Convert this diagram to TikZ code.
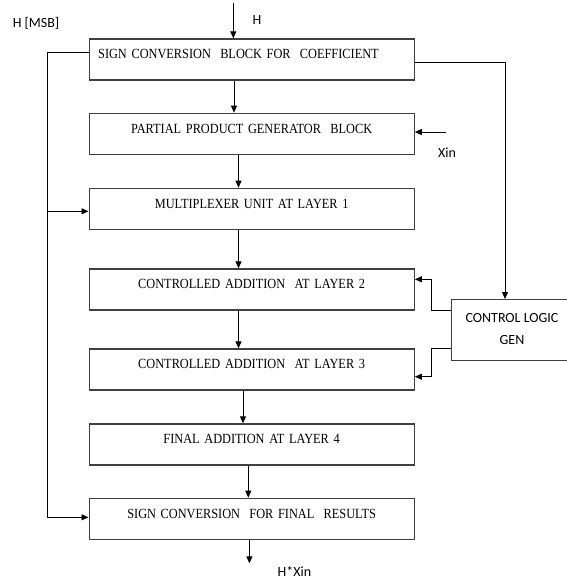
\documentclass[tikz,border=0pt]{standalone}
\usepackage{fontspec}
\setmainfont[FakeStretch=0.88]{Liberation Serif}
\newfontfamily\lblfont{Carlito}
\usetikzlibrary{arrows.meta}
\tikzset{
  blk/.style={draw=black!75, line width=1.3pt, rectangle, inner xsep=0pt, inner ysep=0pt,
    text width=325pt, align=center, text height=19.8pt, text depth=21.2pt,
    anchor=north west, font=\fontsize{14}{16}\selectfont},
  blkleft/.style={blk, inner xsep=9pt, text width=307pt, align=left},
  ctrl/.style={draw=black!75, line width=1.3pt, rectangle, inner sep=0pt,
    minimum width=120pt, minimum height=61pt, anchor=north west},
  lbl/.style={font=\lblfont\fontsize{14}{17}\selectfont, inner sep=0pt},
  conn/.style={line width=0.9pt, black},
  arr/.style={conn, -{Triangle[length=7pt,width=6pt]}}
}
\begin{document}
\begin{tikzpicture}[x=1pt,y=-1pt]
\useasboundingbox (0,0) rectangle (566,579);
% boxes
\node[blkleft] (b1) at (88.5,38.3) {SIGN CONVERSION\ \ BLOCK FOR\ \ COEFFICIENT};
\node[blk] (b2) at (88.5,112.7) {PARTIAL PRODUCT GENERATOR\ \ BLOCK};
\node[blk] (b3) at (88.5,187.7) {MULTIPLEXER UNIT AT LAYER 1};
\node[blk] (b4) at (88.5,268.3) {CONTROLLED ADDITION\ \ AT LAYER 2};
\node[blk] (b5) at (88.5,348.3) {CONTROLLED ADDITION\ \ AT LAYER 3};
\node[blk] (b6) at (88.5,423.3) {FINAL ADDITION AT LAYER 4};
\node[blk] (b7) at (88.5,497.7) {SIGN CONVERSION\ \ FOR FINAL\ \ RESULTS};
\node[ctrl] (cl) at (451,299) {};
\node[lbl] (cltxt1) at (512,317.5) {CONTROL LOGIC};
\node[lbl] (cltxt2) at (512,339.5) {GEN};
% labels
\node[lbl] (hmsb) at (36,23.5) {H [MSB]};
\node[lbl] (hlbl) at (257,20) {H};
\node[lbl] (xinlbl) at (447,152.7) {Xin};
\node[lbl] (outlbl) at (294.5,571.5) {H*Xin};
% free ends
\coordinate (hin) at (233.3,3);
\coordinate (xin) at (445.7,132);
\coordinate (out) at (249.4,563.3);
% vertical chain
\draw[arr] (hin) -- (hin |- b1.north);
\draw[arr] (b1.south -| 234,0) -- (b2.north -| 234,0);
\draw[arr] (b2.south -| 238.5,0) -- (b3.north -| 238.5,0);
\draw[arr] (b3.south -| 238.5,0) -- (b4.north -| 238.5,0);
\draw[arr] (b4.south -| 238.5,0) -- (b5.north -| 238.5,0);
\draw[arr] (b5.south -| 243,0) -- (b6.north -| 243,0);
\draw[arr] (b6.south -| 248.3,0) -- (b7.north -| 248.3,0);
\draw[arr] (b7.south -| out) -- (out);
% Xin
\draw[arr] (xin) -- (xin -| b2.east);
% left MSB bus
\draw[arr] (b1.west |- 0,52.7) -- (47.3,52.7) -- (47.3,517.3) -- (b7.west |- 0,517.3);
\draw[arr] (47.3,211.3) -- (b3.west |- 0,211.3);
% right to control logic
\draw[arr] (b1.east |- 0,62) -- (505,62) -- (cl.north -| 505,0);
% control outputs
\draw[arr] (cl.west |- 0,310) -- (431.7,310) -- (431.7,279.3) -- (b4.east |- 0,279.3);
\draw[arr] (cl.west |- 0,348.3) -- (431.7,348.3) -- (431.7,376.7) -- (b5.east |- 0,376.7);
\end{tikzpicture}
\end{document}
